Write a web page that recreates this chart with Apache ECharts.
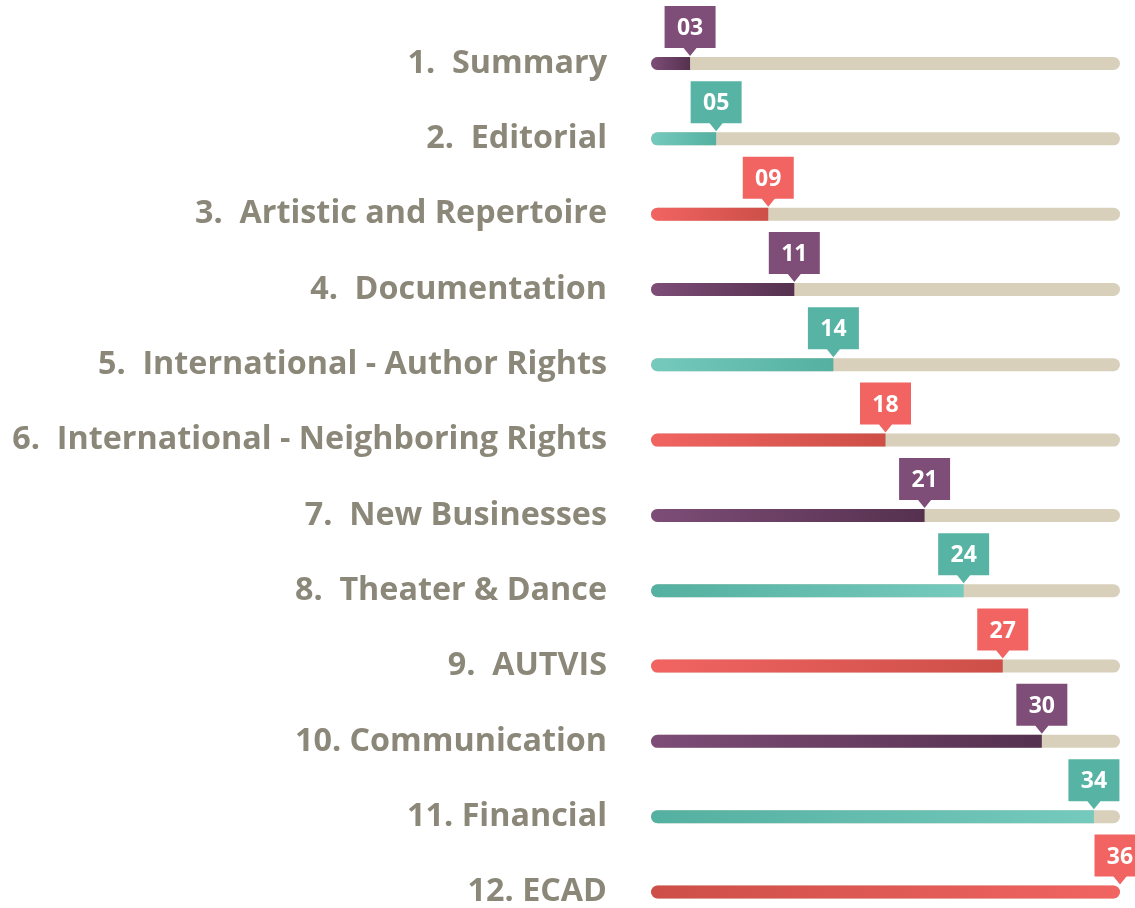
<!DOCTYPE html>
<html>
<head>
<meta charset="utf-8">
<script src="https://cdn.jsdelivr.net/npm/echarts@6/dist/echarts.min.js"></script>
<style>
html,body{margin:0;padding:0;background:#fff;}
#chart{width:1135px;height:908px;}
</style>
</head>
<body>
<div id="chart"></div>
<script>
// ---- data ----
const categories = [
  '1.  Summary',
  '2.  Editorial',
  '3.  Artistic and Repertoire',
  '4.  Documentation',
  '5.  International - Author Rights',
  '6.  International - Neighboring Rights',
  '7.  New Businesses',
  '8.  Theater & Dance',
  '9.  AUTVIS',
  '10. Communication',
  '11. Financial',
  '12. ECAD'
];
const values = [3, 5, 9, 11, 14, 18, 21, 24, 27, 30, 34, 36];
const axisMax = 36;

// ---- styles ----
const palette = {
  purple: { light: '#7d4d77', dark: '#56314f', box: '#7f4e78' },
  teal:   { light: '#75cabd', dark: '#54b0a0', box: '#57b4a4' },
  red:    { light: '#f16461', dark: '#cd4f48', box: '#f16462' }
};
const rowColor = ['purple', 'teal', 'red', 'purple', 'teal', 'red', 'purple', 'teal', 'red', 'purple', 'teal', 'red'];
const darkFirstRows = [7, 10, 11]; // gradient runs dark -> light

const barH = 13;

const trackData = categories.map(() => axisMax);
const barData = values.map((v, i) => {
  const c = palette[rowColor[i]];
  const darkFirst = darkFirstRows.indexOf(i) >= 0;
  return {
    value: v,
    itemStyle: {
      color: new echarts.graphic.LinearGradient(0, 0, 1, 0, [
        { offset: 0, color: darkFirst ? c.dark : c.light },
        { offset: 1, color: darkFirst ? c.light : c.dark }
      ]),
      borderRadius: v >= axisMax ? barH / 2 : [barH / 2, 0, 0, barH / 2]
    }
  };
});
const calloutData = values.map((v, i) => [v, i]);

const chart = echarts.init(document.getElementById('chart'), null, { renderer: 'canvas' });
chart.setOption({
  animation: false,
  backgroundColor: '#ffffff',
  grid: { left: 651, right: 15, top: 63.5, bottom: 11, containLabel: false },
  xAxis: {
    type: 'value', min: 0, max: axisMax,
    show: false
  },
  yAxis: {
    type: 'category',
    data: categories,
    inverse: true,
    boundaryGap: false,
    axisLine: { show: false },
    axisTick: { show: false },
    splitLine: { show: false },
    axisLabel: {
      margin: 44,
      color: '#8c8879',
      fontFamily: 'Open Sans',
      fontWeight: 700,
      fontSize: 32.3,
      padding: [0, 0, 10, 0]
    }
  },
  series: [
    {
      type: 'bar',
      data: trackData,
      barWidth: barH,
      barGap: '-100%',
      silent: true,
      itemStyle: { color: '#d8d0bb', borderRadius: barH / 2 },
      z: 1
    },
    {
      type: 'bar',
      data: barData,
      barWidth: barH,
      barGap: '-100%',
      z: 2
    },
    {
      type: 'custom',
      data: calloutData,
      z: 3,
      clip: false,
      renderItem: function (params, api) {
        const v = api.value(0);
        const idx = api.value(1);
        const p = api.coord([v, idx]);
        const x = p[0], y = p[1];
        const hw = 25.5, top = y - 57.5, bot = y - 15.5, tip = y - 7.5, pw = 6.5;
        const col = palette[rowColor[idx]].box;
        return {
          type: 'group',
          children: [
            {
              type: 'polygon',
              shape: {
                points: [
                  [x - hw, top], [x + hw, top], [x + hw, bot],
                  [x + pw, bot], [x, tip], [x - pw, bot], [x - hw, bot]
                ]
              },
              style: { fill: col }
            },
            {
              type: 'text',
              style: {
                text: String(v).padStart(2, '0'),
                x: x,
                y: (top + bot) / 2 + 1.5,
                align: 'center',
                verticalAlign: 'middle',
                fill: '#ffffff',
                font: '700 23px "Open Sans"'
              }
            }
          ]
        };
      }
    }
  ]
});
</script>
</body>
</html>
